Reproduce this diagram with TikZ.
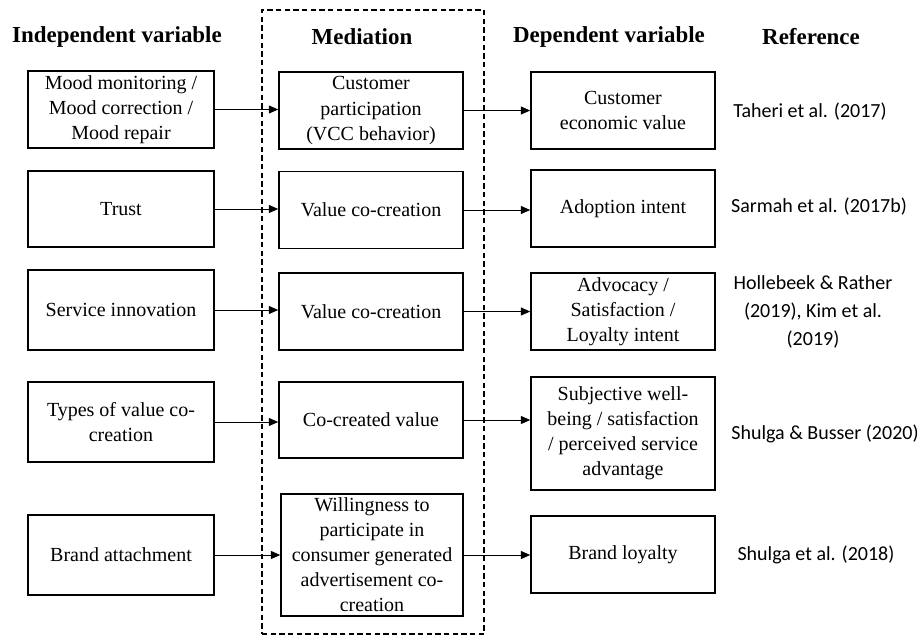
\documentclass[tikz,border=0pt]{standalone}
\usepackage{fontspec}
\setmainfont{Liberation Serif}
\newfontfamily\calib{Carlito}
\usetikzlibrary{arrows.meta}
\begin{document}
\begin{tikzpicture}[x=0.75pt,y=-0.75pt,
  box/.style={draw,line width=1.2pt,align=center,inner sep=0pt,font=\fontsize{15}{18.8}\selectfont},
  hdr/.style={font=\fontsize{17.2}{20}\selectfont\bfseries},
  ref/.style={align=center,font=\calib\fontsize{15}{21}\selectfont},
  arr/.style={line width=0.7pt,-{Triangle[length=7pt,width=6pt]}},
  medbox/.style={draw,dashed,dash pattern=on 4pt off 2.5pt,line width=1.1pt,inner sep=0pt}]
\useasboundingbox (0,0) rectangle (921,637);
\node[medbox,minimum width=222*0.75pt,minimum height=624*0.75pt] (med) at (373,322) {};
% headers
\node[hdr] (h1) at (117,37) {Independent variable};
\node[hdr] (h2) at (362,37) {Mediation};
\node[hdr] (h3) at (609,37) {Dependent variable};
\node[hdr] (h4) at (811,37) {Reference};
% left column
\node[box,minimum width=186*0.75pt,minimum height=77*0.75pt] (L1) at (121,109.5) {Mood monitoring /\\Mood correction /\\Mood repair};
\node[box,minimum width=186*0.75pt,minimum height=76*0.75pt] (L2) at (121,209) {Trust};
\node[box,minimum width=186*0.75pt,minimum height=80*0.75pt] (L3) at (121,310) {Service innovation};
\node[box,minimum width=186*0.75pt,minimum height=80*0.75pt] (L4) at (121,422) {Types of value co-\\creation};
\node[box,minimum width=186*0.75pt,minimum height=80*0.75pt] (L5) at (121,555) {Brand attachment};
% middle column
\node[box,minimum width=184*0.75pt,minimum height=77*0.75pt] (M1) at (371,110.5) {Customer\\participation\\(VCC behavior)};
\node[box,minimum width=184*0.75pt,minimum height=77*0.75pt] (M2) at (371,210) {Value co-creation};
\node[box,minimum width=184*0.75pt,minimum height=77*0.75pt] (M3) at (371,311.5) {Value co-creation};
\node[box,minimum width=184*0.75pt,minimum height=76*0.75pt] (M4) at (371,420) {Co-created value};
\node[box,minimum width=182*0.75pt,minimum height=122*0.75pt] (M5) at (372,555) {Willingness to\\participate in\\consumer generated\\advertisement co-\\creation};
% right column
\node[box,minimum width=184*0.75pt,minimum height=77*0.75pt] (R1) at (623,110.5) {Customer\\economic value};
\node[box,minimum width=184*0.75pt,minimum height=77*0.75pt] (R2) at (623,208.5) {Adoption intent};
\node[box,minimum width=184*0.75pt,minimum height=77*0.75pt] (R3) at (623,311.5) {Advocacy /\\Satisfaction /\\Loyalty intent};
\node[box,minimum width=184*0.75pt,minimum height=113*0.75pt] (R4) at (623,433.5) {Subjective well-\\being / satisfaction\\/ perceived service\\advantage};
\node[box,minimum width=184*0.75pt,minimum height=77*0.75pt] (R5) at (623,554.5) {Brand loyalty};
% references
\node[ref] (F1) at (810,112) {Taheri et al. (2017)};
\node[ref] (F2) at (819,207) {Sarmah et al. (2017b)};
\node[ref] (F3) at (813,312) {Hollebeek \& Rather\\(2019), Kim et al.\\(2019)};
\node[ref] (F4) at (825,434) {Shulga \& Busser (2020)};
\node[ref] (F5) at (816,555) {Shulga et al. (2018)};
% arrows
\foreach \i in {1,...,5}{
  \draw[arr] (L\i.east) -- (L\i.east -| M\i.west);
  \draw[arr] (M\i.east) -- (M\i.east -| R\i.west);
}
\end{tikzpicture}
\end{document}
